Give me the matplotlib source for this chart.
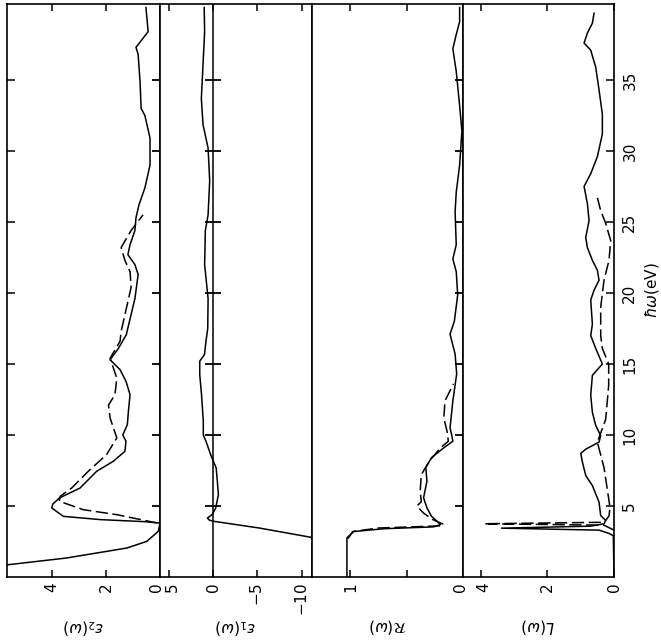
import numpy as np
import matplotlib
matplotlib.use("Agg")
import matplotlib.pyplot as plt
import matplotlib.transforms as mtransforms

# photon energy (eV) vs optical functions; solid = experiment, dashed = calculation
eps2_sol_E = [0.8, 0.87, 1.34, 2.04, 2.51, 3.22, 3.8, 3.9, 4.04, 4.27, 4.86, 5.14, 5.56, 6.27,
              7.44, 8.15, 8.85, 9.56, 10.0, 10.73, 11.67, 12.84, 13.78, 14.6, 15.3, 16.1, 17.06,
              19.6, 21.3, 22.0, 22.7, 23.4, 24.4, 25.3, 26.2, 27.4, 29.0, 30.9, 32.5, 33.0,
              34.9, 36.8, 37.3, 38.4, 40.1]
eps2_sol = [6.0, 5.6, 3.46, 1.23, 0.49, 0.06, 0.0, 0.6, 2.2, 3.58, 4.01, 3.97, 3.73, 2.96,
            2.35, 1.73, 1.3, 1.26, 1.38, 1.21, 1.17, 1.11, 1.26, 1.48, 1.85, 1.54, 1.25,
            0.93, 0.81, 0.93, 1.19, 1.11, 0.93, 0.89, 0.78, 0.56, 0.37, 0.37, 0.56, 0.70,
            0.74, 0.81, 0.89, 0.44, 0.52]
eps2_dash_E = [3.8, 4.39, 4.74, 5.33, 5.68, 6.27, 7.44, 8.62, 9.79, 11.2, 12.1, 12.84, 14.0,
               15.4, 16.6, 17.3, 20.4, 21.5, 22.3, 23.2, 24.4, 25.5]
eps2_dash = [0.1, 1.6, 2.84, 3.73, 3.7, 3.27, 2.66, 1.98, 1.6, 1.85, 1.91, 1.67, 1.6,
             1.85, 1.48, 1.44, 1.07, 1.11, 1.3, 1.44, 1.07, 0.63]

eps1_E = [2.7, 2.8, 3.45, 3.92, 4.0, 4.15, 4.4, 4.86, 5.8, 6.6, 7.68, 8.6, 9.56, 10.0, 10.96,
          12.84, 14.25, 15.2, 15.66, 16.6, 17.5, 19.6, 22.0, 24.4, 25.5, 27.9, 30.2, 31.85,
          33.7, 36.1, 38.4, 40.1]
eps1 = [-11.8, -11.0, -5.2, -0.1, 0.4, 0.64, 0.1, -0.3, -0.6, -0.5, -0.35, 0.26, 0.8, 1.1, 1.1,
        1.3, 1.5, 1.5, 0.97, 0.8, 0.6, 0.56, 0.95, 0.87, 0.56, 0.38, 0.56, 1.13,
        1.32, 1.13, 0.95, 1.0]

R_sol_E = [0, 2.76, 3.2, 3.4, 3.53, 3.7, 4.28, 4.87, 5.58, 6.75, 7.7, 8.4, 9.1, 9.56, 10.0,
           10.5, 12.4, 14.3, 15.7, 17.1, 18.0, 19.86, 21.5, 22.4, 23.4, 25.7, 27.1, 29.0,
           31.4, 33.2, 35.6, 37.2, 38.2, 39.1, 40.1]
R_sol = [1.03, 1.03, 0.97, 0.7, 0.26, 0.2, 0.28, 0.32, 0.35, 0.32, 0.33, 0.28, 0.17, 0.09, 0.1,
         0.115, 0.09, 0.056, 0.07, 0.115, 0.077, 0.047, 0.06, 0.09, 0.06, 0.07, 0.06, 0.03,
         0.01, 0.03, 0.06, 0.09, 0.06, 0.03, 0.03]
R_dash_E = [2.7, 3.2, 3.45, 3.6, 3.7, 4.05, 4.5, 5.0, 5.3, 6.04, 7.2, 8.15, 9.1, 9.56, 10.2,
            11.2, 12.4, 13.6]
R_dash = [1.02, 0.98, 0.75, 0.2, 0.17, 0.27, 0.35, 0.41, 0.37, 0.38, 0.37, 0.3, 0.2, 0.13, 0.14,
          0.17, 0.16, 0.085]

L_sol_E = [0, 2.9, 3.07, 3.3, 3.44, 3.58, 3.75, 3.98, 4.33, 5.27, 6.44, 7.15, 8.1, 8.7, 9.0,
           9.5, 9.96, 10.67, 11.6, 12.8, 14.2, 15.0, 16.1, 17.0, 17.8, 19.5, 20.2, 20.9, 21.6,
           22.3, 23.2, 23.9, 25.1, 26.3, 27.5, 28.4, 29.6, 31.2, 32.6, 34.3, 35.9, 37.1, 37.6,
           38.3, 39.0, 39.7]
L_sol = [0, 0.02, 0.15, 0.45, 3.38, 0.7, 0.3, 0.25, 0.4, 0.45, 0.65, 0.85, 0.95, 1.0, 0.85,
         0.45, 0.4, 0.55, 0.65, 0.7, 0.65, 0.35, 0.55, 0.7, 0.65, 0.7, 0.6, 0.45, 0.5,
         0.65, 0.8, 0.85, 0.75, 0.8, 0.9, 0.7, 0.5, 0.35, 0.35, 0.45, 0.55, 0.7, 0.9,
         0.8, 0.65, 0.6]
L_dash_E = [3.3, 3.65, 3.75, 3.85, 3.98, 4.3, 4.9, 7.7, 9.5, 11.1, 13.5, 15.0, 16.1, 17.0, 19.0,
            20.9, 22.3, 23.7, 24.9, 25.8, 26.9]
L_dash = [0.0, 0.3, 3.9, 0.4, 0.25, 0.15, 0.12, 0.3, 0.5, 0.25, 0.16, 0.16, 0.35, 0.4, 0.4,
          0.3, 0.15, 0.1, 0.25, 0.4, 0.52]

e_ticks = [5, 10, 15, 20, 25, 30, 35]

W, H = 661, 641
fig = plt.figure(figsize=(W / 100, H / 100), dpi=100)

edges = [7, 160, 312, 463, 614]
top_px, bot_px = 4, 577
emax = 40.35
lw = 1.1
dash = (8, 3)

def panel(i, xlim, ticks, labels, name):
    ax = fig.add_axes([edges[i] / W, 1 - bot_px / H, (edges[i + 1] - edges[i]) / W,
                       (bot_px - top_px) / H])
    ax.set_xlim(*xlim)
    ax.set_ylim(0, emax)
    ax.set_xticks(ticks)
    ax.set_xticklabels(labels)
    ax.tick_params(axis='x', direction='in', top=True, length=5, width=1.1,
                   labelrotation=90, labelsize=11, pad=4)
    ax.set_yticks([])
    for s in ax.spines.values():
        s.set_linewidth(1.2)
    ax.text(0.5, -(626 - bot_px) / (bot_px - top_px), name, transform=ax.transAxes,
            rotation=180, ha='center', va='center', fontsize=11)
    return ax

def cross_ticks(ax):
    ax.plot(np.zeros(len(e_ticks)), e_ticks, ls='none', marker='_', ms=11, mew=1.3,
            color='k', clip_on=False, zorder=5)

def nudge(label, dx):
    label.set_transform(label.get_transform() +
                        mtransforms.ScaledTranslation(dx / 100, 0, fig.dpi_scale_trans))

# epsilon_2
ax1 = panel(0, (5.67, 0), [4, 2, 0], ['4', '2', '0'], r'$\varepsilon_2(\omega)$')
ax1.plot(eps2_sol, eps2_sol_E, color='k', lw=lw)
ax1.plot(eps2_dash, eps2_dash_E, color='k', lw=lw, dashes=dash)
ax1.set_yticks(e_ticks)
ax1.tick_params(axis='y', direction='in', length=6, width=1.1, labelleft=False)
cross_ticks(ax1)

# epsilon_1
ax2 = panel(1, (5.98, -11.15), [5, 0, -5, -10], ['5', '0', '$-5$', '$-10$'],
            r'$\varepsilon_1(\omega)$')
ax2.axvline(0, color='k', lw=1.1)
ax2.plot(eps1, eps1_E, color='k', lw=lw)
cross_ticks(ax2)

# reflectivity
ax3 = panel(2, (1.34, 0), [1, 0.5, 0], ['1', '', '0'], r'$\mathcal{R}(\omega)$')
ax3.plot(R_sol, R_sol_E, color='k', lw=lw)
ax3.plot(R_dash, R_dash_E, color='k', lw=lw, dashes=dash)
cross_ticks(ax3)

# loss function
ax4 = panel(3, (4.54, 0), [4, 2, 0], ['4', '2', '0'], r'$L(\omega)$')
ax4.plot(L_sol, L_sol_E, color='k', lw=lw)
ax4.plot(L_dash, L_dash_E, color='k', lw=lw, dashes=dash)
ax4.set_yticks(e_ticks)
ax4.yaxis.tick_right()
ax4.tick_params(axis='y', direction='in', length=6, width=1.1, labelrotation=90,
                labelsize=11, pad=6)
for t in ax4.get_yticklabels():
    t.set_va('center')
ax4.yaxis.set_label_position('right')
ax4.set_ylabel(r'$\hbar\omega$(eV)', rotation=90, fontsize=11, labelpad=4)

# labels sitting on shared panel borders, pushed apart a little
nudge(ax1.get_xticklabels()[2], -3)
nudge(ax2.get_xticklabels()[0], 4)
nudge(ax3.get_xticklabels()[2], -3)
nudge(ax4.get_xticklabels()[0], 3)

fig.savefig('out.png', dpi=100)
